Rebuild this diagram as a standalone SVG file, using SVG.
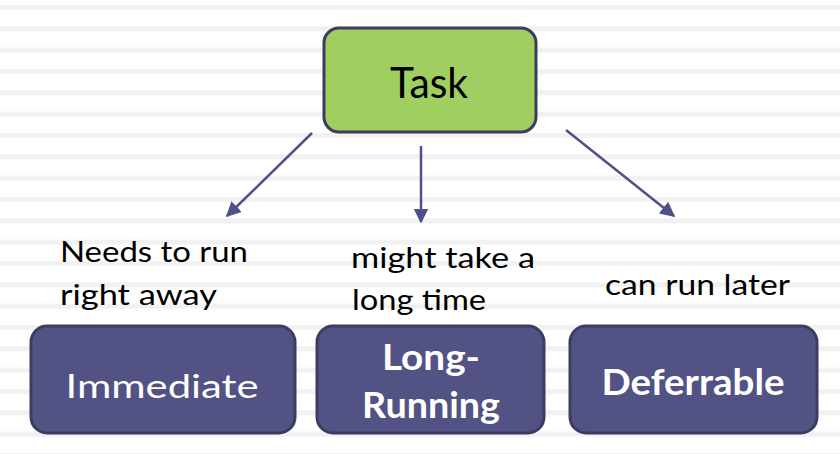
<svg xmlns="http://www.w3.org/2000/svg" width="840" height="454" viewBox="0 0 840 454">
<defs>
<pattern id="stripes" x="0" y="0" width="840" height="21.333" patternUnits="userSpaceOnUse">
<rect x="0" y="5" width="840" height="5" fill="#f1f1f1"/>
</pattern>
<marker id="arr" viewBox="0 0 10 10" refX="9" refY="5" markerWidth="6" markerHeight="6" markerUnits="strokeWidth" orient="auto">
<path d="M0,0 L10,5 L0,10 z" fill="#505088"/>
</marker>
<style>
.conn{stroke:#505088;stroke-width:2.5;fill:none;marker-end:url(#arr)}
.child{fill:#525285;stroke:#3c3c63;stroke-width:3}
.lbl{font-family:Lato,"Liberation Sans",sans-serif;font-size:29px;fill:#000}
.wt{font-family:Lato,"Liberation Sans",sans-serif;fill:#fff;text-anchor:middle}
</style>
</defs>
<rect width="840" height="454" fill="#fff"/>
<rect width="840" height="454" fill="url(#stripes)"/>
<g id="connectors">
<line class="conn" x1="312" y1="133" x2="227" y2="216"/>
<line class="conn" x1="421" y1="146" x2="421" y2="222"/>
<line class="conn" x1="566" y1="130" x2="674" y2="216"/>
</g>
<g id="task">
<rect x="324" y="28" width="212" height="104" rx="15" fill="#a0ce61" stroke="#3c3c63" stroke-width="3"/>
<text x="429" y="98" font-family="Lato,'Liberation Sans',sans-serif" font-size="42" text-anchor="middle" fill="#000" textLength="78" lengthAdjust="spacingAndGlyphs">Task</text>
</g>
<g id="immediate">
<rect class="child" x="31" y="326" width="264" height="107" rx="16"/>
<text class="wt" x="162" y="398" font-size="32" textLength="193" lengthAdjust="spacingAndGlyphs">Immediate</text>
</g>
<g id="long-running">
<rect class="child" x="317" y="326" width="227" height="107" rx="16"/>
<text class="wt" x="431" y="370" font-size="37" font-weight="bold" textLength="98" lengthAdjust="spacingAndGlyphs">Long-</text>
<text class="wt" x="431" y="418" font-size="37" font-weight="bold" textLength="138" lengthAdjust="spacingAndGlyphs">Running</text>
</g>
<g id="deferrable">
<rect class="child" x="570" y="326" width="247" height="107" rx="16"/>
<text class="wt" x="693" y="395" font-size="37" font-weight="bold" textLength="183" lengthAdjust="spacingAndGlyphs">Deferrable</text>
</g>
<g id="labels">
<text class="lbl" x="60" y="262" textLength="188" lengthAdjust="spacingAndGlyphs">Needs to run</text>
<text class="lbl" x="60" y="305" textLength="157" lengthAdjust="spacingAndGlyphs">right away</text>
<text class="lbl" x="351" y="268" textLength="184" lengthAdjust="spacingAndGlyphs">might take a</text>
<text class="lbl" x="352" y="310" textLength="134" lengthAdjust="spacingAndGlyphs">long time</text>
<text class="lbl" x="605" y="295" textLength="185" lengthAdjust="spacingAndGlyphs">can run later</text>
</g>
</svg>
